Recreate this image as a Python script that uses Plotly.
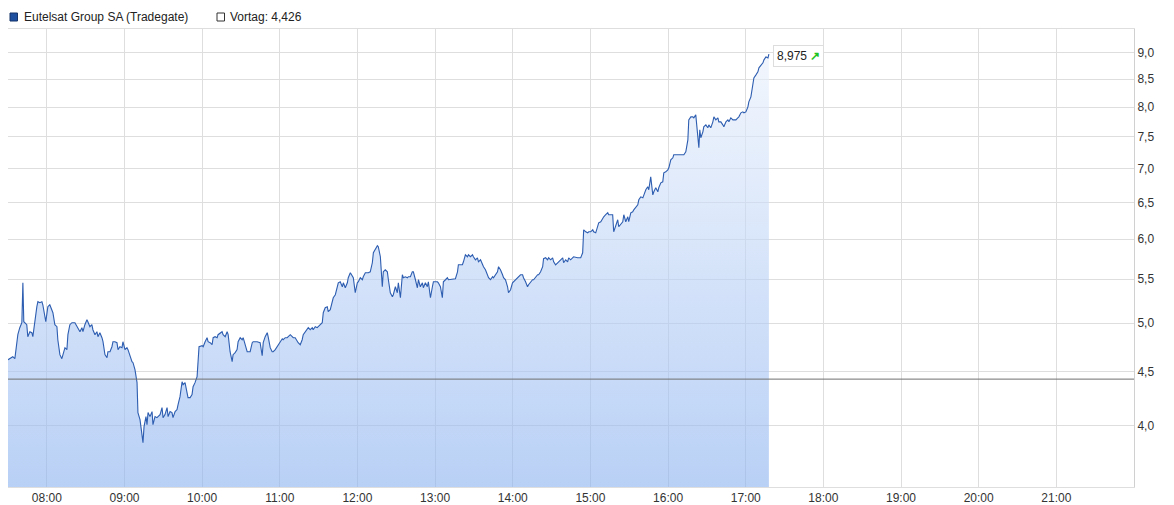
import math
import pandas as pd
import plotly.graph_objects as go

# ---------------- data ----------------
session_day = "2024-01-01"
session_start = "2024-01-01 07:30"
instrument = "Eutelsat Group SA (Tradegate)"
prev_close = 4.426

minutes_after_start = [
    0, 2.9, 3.7, 5.3, 7.6, 9.1, 10.7, 11.5, 12.2, 14.5,
    15.3, 16.9, 18.4, 19.2, 20.7, 22.3, 23.1, 24.6, 26.2, 26.9,
    29.2, 30.8, 32.3, 33.9, 34.7, 36.2, 37.8, 38.5, 40.1, 41.6,
    42.4, 44.0, 45.5, 46.3, 47.8, 49.4, 51.7, 53.2, 54.0, 55.6,
    57.1, 57.9, 59.4, 61.0, 61.7, 63.3, 64.8, 65.6, 67.2, 68.7,
    69.5, 71.0, 72.6, 73.4, 74.9, 76.5, 77.2, 78.8, 80.3, 81.1,
    82.6, 84.2, 85.0, 86.5, 88.1, 88.8, 90.4, 91.9, 92.7, 94.2,
    95.8, 96.6, 98.1, 99.7, 100.4, 102.0, 103.5, 104.3, 105.1, 106.6,
    107.4, 108.2, 109.7, 111.3, 112.0, 113.6, 115.1, 115.9, 117.5, 119.0,
    119.8, 121.3, 122.9, 123.7, 125.2, 126.7, 127.5, 129.1, 130.6, 131.4,
    132.9, 134.5, 135.3, 136.8, 138.4, 139.1, 140.7, 142.2, 143.0, 144.5,
    146.1, 146.9, 147.6, 150.0, 150.8, 152.3, 153.8, 154.6, 156.2, 157.7,
    158.5, 160.0, 161.6, 162.3, 163.9, 165.4, 166.2, 167.8, 169.3, 170.1,
    171.6, 173.2, 173.9, 175.5, 177.0, 177.8, 179.4, 180.9, 181.7, 183.2,
    184.8, 185.6, 187.1, 188.7, 189.4, 192.5, 194.8, 196.4, 197.2, 198.7,
    200.3, 201.0, 202.6, 204.1, 204.9, 206.5, 208.0, 208.8, 210.3, 211.9,
    212.6, 214.2, 215.7, 216.5, 218.1, 219.6, 220.4, 221.9, 223.5, 224.2,
    225.8, 227.3, 228.1, 229.7, 231.2, 232.0, 233.5, 235.1, 235.8, 237.4,
    238.9, 239.7, 241.3, 242.8, 243.6, 245.1, 246.7, 247.4, 249.0, 250.6,
    251.3, 252.9, 254.4, 255.2, 256.7, 258.3, 259.1, 260.6, 262.2, 262.9,
    264.5, 266.0, 266.8, 268.3, 269.9, 270.7, 272.2, 273.8, 274.5, 276.1,
    277.6, 278.4, 279.9, 281.5, 282.3, 283.8, 285.4, 286.1, 287.7, 289.2,
    290.0, 291.5, 293.1, 293.9, 295.4, 297.0, 297.7, 299.3, 300.8, 301.6,
    303.2, 304.7, 305.5, 307.0, 308.6, 309.3, 310.9, 312.4, 313.2, 314.8,
    316.3, 317.1, 318.6, 320.2, 320.9, 322.5, 324.0, 324.8, 326.4, 327.9,
    328.7, 330.2, 331.8, 332.5, 334.1, 335.6, 336.4, 338.0, 339.5, 340.3,
    343.4, 345.7, 347.3, 348.0, 349.6, 351.1, 351.9, 353.4, 355.0, 355.8,
    357.3, 358.9, 359.6, 361.2, 362.7, 363.5, 365.1, 366.6, 367.4, 368.9,
    370.5, 371.3, 372.8, 374.4, 375.1, 376.7, 378.2, 379.0, 380.5, 382.1,
    382.9, 384.4, 386.0, 386.7, 388.3, 389.8, 390.6, 392.2, 393.7, 394.5,
    396.0, 397.6, 398.3, 399.9, 401.4, 402.2, 403.8, 405.3, 406.1, 407.6,
    409.2, 410.0, 411.5, 413.1, 413.8, 415.4, 416.9, 417.7, 419.3, 420.8,
    421.6, 423.1, 424.7, 425.4, 427.0, 428.6, 429.3, 430.9, 432.4, 433.2,
    434.7, 437.0, 440.1, 442.5, 444.0, 444.8, 446.4, 447.9, 448.7, 450.2,
    451.8, 452.5, 454.1, 455.6, 456.4, 458.0, 459.5, 460.3, 461.8, 463.4,
    464.1, 465.7, 467.2, 468.0, 469.6, 471.1, 471.9, 473.4, 475.0, 475.8,
    477.3, 478.9, 479.6, 481.2, 482.7, 483.5, 485.0, 486.6, 487.4, 488.9,
    490.5, 491.2, 492.8, 494.3, 495.1, 496.6, 498.2, 499.0, 500.5, 502.1,
    502.8, 504.4, 505.9, 506.7, 508.2, 509.8, 510.6, 512.1, 513.7, 514.4,
    517.5, 519.8, 522.2, 523.7, 525.3, 526.0, 527.6, 529.1, 529.9, 531.4,
    533.0, 533.8, 534.5, 535.3, 536.9, 537.6, 539.2, 540.7, 541.5, 543.0,
    544.6, 545.4, 546.9, 548.5, 549.2, 550.8, 552.3, 553.1, 554.7, 556.2,
    557.0, 558.5, 560.1, 560.8, 562.4, 563.9, 564.7, 566.3, 567.8, 568.6,
    570.1, 571.7, 572.4, 574.0, 575.5, 576.3, 577.9, 579.4, 580.2, 581.7,
    583.3, 584.1, 585.6, 587.2, 587.9,
]

prices = [
    4.617, 4.637, 4.647, 4.627, 4.875, 4.950, 5.004, 5.458, 5.015, 4.982,
    4.854, 4.907, 4.896, 4.854, 5.037, 5.181, 5.238, 5.226, 5.238, 5.203,
    5.015, 5.181, 5.203, 5.125, 5.114, 4.982, 4.961, 4.822, 4.668, 4.627,
    4.668, 4.739, 4.719, 4.875, 4.982, 5.004, 5.004, 4.961, 4.950, 4.907,
    4.950, 4.907, 4.982, 5.037, 5.015, 4.961, 4.982, 4.928, 4.875, 4.907,
    4.854, 4.896, 4.843, 4.801, 4.668, 4.637, 4.698, 4.698, 4.749, 4.801,
    4.801, 4.791, 4.719, 4.749, 4.739, 4.801, 4.719, 4.739, 4.719, 4.647,
    4.597, 4.587, 4.518, 4.392, 4.115, 4.053, 3.880, 3.855, 3.991, 4.079,
    4.009, 4.115, 4.079, 4.124, 4.009, 4.079, 4.070, 4.079, 4.097, 4.160,
    4.070, 4.097, 4.160, 4.079, 4.124, 4.115, 4.070, 4.124, 4.142, 4.187,
    4.260, 4.401, 4.373, 4.392, 4.279, 4.251, 4.251, 4.279, 4.354, 4.392,
    4.450, 4.637, 4.749, 4.760, 4.749, 4.801, 4.843, 4.801, 4.791, 4.770,
    4.843, 4.854, 4.843, 4.875, 4.896, 4.907, 4.875, 4.854, 4.907, 4.875,
    4.698, 4.597, 4.668, 4.688, 4.719, 4.801, 4.843, 4.822, 4.843, 4.770,
    4.698, 4.698, 4.698, 4.791, 4.801, 4.801, 4.791, 4.657, 4.791, 4.854,
    4.896, 4.854, 4.739, 4.698, 4.698, 4.719, 4.749, 4.770, 4.801, 4.832,
    4.822, 4.843, 4.843, 4.854, 4.875, 4.854, 4.843, 4.843, 4.801, 4.791,
    4.770, 4.822, 4.875, 4.907, 4.928, 4.950, 4.928, 4.950, 4.928, 4.961,
    4.950, 4.961, 4.982, 5.004, 5.114, 5.170, 5.181, 5.125, 5.147, 5.226,
    5.283, 5.318, 5.399, 5.458, 5.470, 5.411, 5.458, 5.399, 5.458, 5.518,
    5.578, 5.530, 5.518, 5.341, 5.458, 5.470, 5.518, 5.494, 5.530, 5.578,
    5.578, 5.578, 5.590, 5.701, 5.826, 5.864, 5.916, 5.903, 5.776, 5.411,
    5.590, 5.615, 5.590, 5.494, 5.341, 5.295, 5.318, 5.411, 5.341, 5.458,
    5.283, 5.554, 5.518, 5.530, 5.518, 5.530, 5.530, 5.590, 5.590, 5.494,
    5.399, 5.494, 5.411, 5.458, 5.399, 5.458, 5.411, 5.470, 5.283, 5.411,
    5.470, 5.470, 5.470, 5.458, 5.411, 5.283, 5.470, 5.494, 5.518, 5.494,
    5.506, 5.506, 5.590, 5.676, 5.676, 5.676, 5.713, 5.801, 5.776, 5.801,
    5.776, 5.801, 5.776, 5.738, 5.763, 5.713, 5.738, 5.676, 5.652, 5.615,
    5.554, 5.518, 5.494, 5.530, 5.518, 5.554, 5.590, 5.652, 5.615, 5.554,
    5.518, 5.494, 5.411, 5.341, 5.376, 5.458, 5.470, 5.494, 5.518, 5.530,
    5.554, 5.554, 5.518, 5.470, 5.411, 5.435, 5.470, 5.494, 5.494, 5.530,
    5.554, 5.554, 5.590, 5.652, 5.751, 5.763, 5.738, 5.763, 5.738, 5.763,
    5.713, 5.676, 5.701, 5.713, 5.738, 5.763, 5.701, 5.738, 5.713, 5.763,
    5.738, 5.776, 5.763, 5.763, 5.826, 6.125, 6.098, 6.085, 6.098, 6.098,
    6.125, 6.098, 6.085, 6.165, 6.219, 6.233, 6.287, 6.301, 6.329, 6.356,
    6.329, 6.329, 6.329, 6.098, 6.192, 6.260, 6.165, 6.192, 6.233, 6.329,
    6.233, 6.301, 6.233, 6.356, 6.370, 6.397, 6.439, 6.467, 6.538, 6.580,
    6.566, 6.609, 6.682, 6.726, 6.682, 6.873, 6.609, 6.653, 6.711, 6.653,
    6.711, 6.784, 6.799, 6.933, 6.948, 6.978, 7.009, 7.132, 7.163, 7.210,
    7.210, 7.210, 7.210, 7.258, 7.449, 7.780, 7.831, 7.831, 7.814, 7.865,
    7.498, 7.321, 7.613, 7.482, 7.580, 7.663, 7.696, 7.646, 7.696, 7.646,
    7.746, 7.831, 7.780, 7.814, 7.746, 7.746, 7.696, 7.663, 7.746, 7.780,
    7.746, 7.814, 7.780, 7.780, 7.780, 7.814, 7.831, 7.899, 7.916, 7.899,
    7.916, 8.003, 8.091, 8.179, 8.450, 8.524, 8.580, 8.636, 8.712, 8.769,
    8.807, 8.865, 8.922, 8.903, 8.975,
]

y_ticks = [4.0, 4.5, 5.0, 5.5, 6.0, 6.5, 7.0, 7.5, 8.0, 8.5, 9.0]
x_ticks = ["08:00", "09:00", "10:00", "11:00", "12:00", "13:00", "14:00",
           "15:00", "16:00", "17:00", "18:00", "19:00", "20:00", "21:00"]
x_range = ["2024-01-01 07:30", "2024-01-01 22:00"]
y_range = [3.5, 9.48]

assert len(minutes_after_start) == len(prices)

# ---------------- figure ----------------
FONT = "Liberation Sans, Arial, sans-serif"
times = pd.Timestamp(session_start) + pd.to_timedelta(minutes_after_start, unit="min")
tick_times = [pd.Timestamp(f"{session_day} {t}") for t in x_ticks]

fig = go.Figure()
# baseline for the area fill (bottom of the axis)
fig.add_trace(go.Scatter(
    x=times, y=[y_range[0]] * len(times), mode="lines",
    line=dict(width=0, color="rgba(0,0,0,0)"), hoverinfo="skip", showlegend=False,
))
fig.add_trace(go.Scatter(
    x=times, y=prices, mode="lines", name=instrument,
    line=dict(color="#2d5db0", width=1.1),
    fill="tonexty",
    fillgradient=dict(
        type="vertical",
        colorscale=[[0, "rgba(142,180,240,0.62)"], [1, "rgba(234,241,252,0.62)"]],
    ),
    showlegend=False,
))

# previous close line
fig.add_shape(type="line", xref="paper", x0=0, x1=1, yref="y", y0=prev_close, y1=prev_close,
              line=dict(color="#6f6f6f", width=1))

# page-pixel helpers (the page body adds an 8px offset; plot area spans x 8..1134, y 29..487)
W, H = 1126.0, 458.0
def px_x(p):
    return (p - 8) / W
def px_y(p):
    return (487 - p) / H

fig.add_shape(type="rect", xref="paper", yref="paper",
              x0=px_x(10), x1=px_x(17.5), y0=px_y(21), y1=px_y(13),
              fillcolor="#1f4f9f", line=dict(color="#15356b", width=1))
fig.add_annotation(xref="paper", yref="paper", x=px_x(21.5), y=px_y(17),
                   xanchor="left", yanchor="middle", showarrow=False,
                   text=instrument, font=dict(family=FONT, size=12, color="#222"))
fig.add_shape(type="rect", xref="paper", yref="paper",
              x0=px_x(217), x1=px_x(224.5), y0=px_y(21), y1=px_y(13),
              fillcolor="white", line=dict(color="#333", width=1))
fig.add_annotation(xref="paper", yref="paper", x=px_x(228), y=px_y(17),
                   xanchor="left", yanchor="middle", showarrow=False,
                   text="Vortag: " + f"{prev_close:.3f}".replace(".", ","),
                   font=dict(family=FONT, size=12, color="#222"))

# last price label
last_txt = f"{prices[-1]:.3f}".replace(".", ",")
fig.add_annotation(x=times[-1], y=math.log10(prices[-1]), xanchor="left", yanchor="middle",
                   xshift=4, yshift=-2, showarrow=False,
                   text=last_txt + " <b><span style='color:#22c322'>&#8599;</span></b>",
                   font=dict(family=FONT, size=12, color="#222"),
                   bgcolor="white", bordercolor="#dddddd", borderwidth=1, borderpad=3)

fig.update_layout(
    width=1166, height=497,
    margin=dict(l=0, r=40, t=21, b=18, autoexpand=False),
    paper_bgcolor="white", plot_bgcolor="white",
    separators=",.",
    font=dict(family=FONT, size=12, color="#333"),
    showlegend=False,
    xaxis=dict(
        type="date", range=x_range,
        tickmode="array", tickvals=tick_times, tickformat="%H:%M",
        showgrid=True, gridcolor="#dedede", gridwidth=1,
        showline=True, linecolor="#dedede", mirror=True,
        ticks="", zeroline=False, automargin=False,
        tickfont=dict(family=FONT, size=12, color="#333"),
    ),
    yaxis=dict(
        type="log", range=[math.log10(y_range[0]), math.log10(y_range[1])],
        side="right", tickvals=y_ticks, tickformat=".1f",
        showgrid=True, gridcolor="#dedede", gridwidth=1,
        showline=True, linecolor="#d0d0d0",
        ticks="", zeroline=False, automargin=False,
        tickfont=dict(family=FONT, size=12, color="#333"),
    ),
)

fig.write_html("out.html")
